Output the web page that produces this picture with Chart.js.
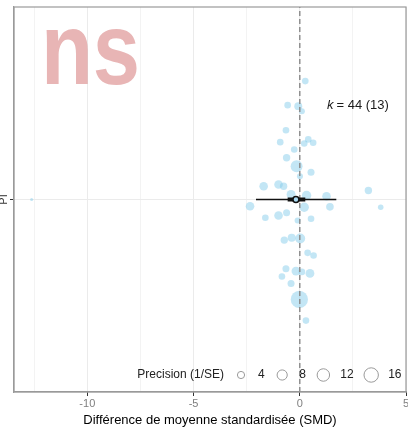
<!DOCTYPE html>
<html>
<head>
<meta charset="utf-8">
<script src="https://cdn.jsdelivr.net/npm/chart.js@4/dist/chart.umd.min.js"></script>
<style>
  html, body { margin: 0; padding: 0; background: #fff; }
  #wrap { width: 408px; height: 429px; }
</style>
</head>
<body>
<div id="wrap"><canvas id="chart" width="408" height="429"></canvas></div>
<script>
// Données (SMD par étude, décalage vertical du nuage, précision 1/SE)
const smd = [0.26, -0.57, -0.07, 0.10, -0.65, -0.92, 0.40, 0.21, 0.63, -0.26,
             -0.62, -0.15, 0.53, 0.01, -1.70, -1.00, -0.76, -0.41, 0.32, 1.26,
             3.23, -2.34, 0.21, 1.42, 3.81, -1.62, -1.00, -0.62, -0.10, 0.53,
             -0.73, -0.38, 0.02, 0.37, 0.65, -0.65, -0.18, 0.10, 0.48, -0.84,
             -0.41, -0.02, 0.29, -12.62];
const jitter = [0.615, 0.49, 0.485, 0.459, 0.36, 0.298, 0.312, 0.291, 0.295, 0.26,
                0.217, 0.173, 0.142, 0.121, 0.069, 0.078, 0.069, 0.026, 0.021, 0.017,
                0.047, -0.035, -0.04, -0.038, -0.04, -0.095, -0.083, -0.069, -0.109, -0.10,
                -0.211, -0.199, -0.203, -0.277, -0.291, -0.36, -0.372, -0.376, -0.384, -0.40,
                -0.436, -0.519, -0.629, 0];
const precision = [3.4, 3.4, 4.9, 2.8, 3.4, 3.4, 3.4, 3.4, 3.4, 3.4,
                   4.2, 11, 3.8, 2.8, 5.7, 5.7, 4.2, 6.2, 6.8, 5.7,
                   4.2, 5.7, 6.8, 4.5, 2.4, 3.4, 5.7, 3.8, 2.8, 3.4,
                   4.2, 4.9, 7.7, 3.4, 3.4, 3.8, 6, 3.4, 6, 3.4,
                   3.8, 23, 3.4, 0.7];

// Estimation poolée, IC et intervalle de prédiction
const pooled = -0.18;
const ciBounds = [-0.57, 0.26];
const piBounds = [-2.06, 1.72];

const xTicks = [-10, -5, 0, 5];
const xMinorTicks = [-12.5, -7.5, -2.5, 2.5];
const legendPrecision = [4, 8, 12, 16];
const categoryLabel = 'PI';
const kText = '44 (13)';

const FONT = '"Liberation Sans", Arial, sans-serif';

function radius(p) {
    return 1.8 * Math.sqrt(p);
}

const isMajor = c => c.tick && xTicks.includes(c.tick.value);

// Dessin des annotations : "ns", k, légende de précision, étiquettes, cadre
const annotations = {
    id: 'annotations',
    beforeDatasetsDraw(chart) {
        const ctx = chart.ctx;
        ctx.save();
        ctx.fillStyle = 'rgba(205, 92, 92, 0.45)';
        ctx.font = 'bold 100px ' + FONT;
        ctx.textBaseline = 'alphabetic';
        ctx.textAlign = 'left';
        // ajuster le texte à la boîte visible dans l'original
        const m = ctx.measureText('ns');
        const inkW = m.actualBoundingBoxRight + m.actualBoundingBoxLeft;
        const inkH = m.actualBoundingBoxAscent;
        const sx = 91 / inkW;
        const sy = 55.5 / inkH;
        ctx.translate(46 + m.actualBoundingBoxLeft * sx, 83.5);
        ctx.scale(sx, sy);
        ctx.fillText('ns', 0, 0);
        ctx.restore();
    },
    afterDraw(chart) {
        const ctx = chart.ctx;
        const area = chart.chartArea;
        const xScale = chart.scales.x;
        const yScale = chart.scales.y;

        // cadre du panneau
        ctx.save();
        ctx.strokeStyle = '#9a9a9a';
        ctx.lineWidth = 1.2;
        ctx.strokeRect(area.left, area.top, area.right - area.left, area.bottom - area.top);
        ctx.restore();

        // étiquettes de l'axe x
        ctx.save();
        ctx.fillStyle = '#7f7f7f';
        ctx.font = '11px ' + FONT;
        ctx.textAlign = 'center';
        ctx.textBaseline = 'top';
        xTicks.forEach(v => ctx.fillText(String(v), xScale.getPixelForValue(v), area.bottom + 6));
        ctx.restore();

        // étiquette PI (verticale)
        ctx.save();
        ctx.fillStyle = '#333';
        ctx.font = '11px ' + FONT;
        ctx.textAlign = 'center';
        ctx.textBaseline = 'middle';
        ctx.translate(4, yScale.getPixelForValue(0));
        ctx.rotate(-Math.PI / 2);
        ctx.fillText(categoryLabel, 0, 0);
        ctx.restore();

        // k = 44 (13)
        ctx.save();
        ctx.fillStyle = '#1a1a1a';
        ctx.textBaseline = 'middle';
        ctx.font = 'italic 13px ' + FONT;
        let x = 327;
        const ky = 105;
        ctx.fillText('k', x, ky);
        x += ctx.measureText('k').width + 3;
        ctx.font = '13px ' + FONT;
        ctx.fillText('= ' + kText, x, ky);
        ctx.restore();

        // légende de précision
        ctx.save();
        const ly = 375;
        ctx.font = '12px ' + FONT;
        ctx.fillStyle = '#222';
        ctx.textBaseline = 'middle';
        ctx.textAlign = 'right';
        ctx.fillText('Precision (1/SE)', 224, ly);
        ctx.textAlign = 'left';
        let cursor = 224;
        legendPrecision.forEach(p => {
            const cx = cursor + 17;
            ctx.beginPath();
            ctx.arc(cx, ly, radius(p), 0, Math.PI * 2);
            ctx.strokeStyle = '#9a9a9a';
            ctx.lineWidth = 1;
            ctx.stroke();
            ctx.fillStyle = '#222';
            const label = String(p);
            ctx.fillText(label, cx + 17, ly);
            cursor = cx + 17 + ctx.measureText(label).width + 0.5;
        });
        ctx.restore();
    }
};

const ctx = document.getElementById('chart').getContext('2d');
const chart = new Chart(ctx, {
    type: 'scatter',
    data: {
        datasets: [
            {
                // estimation poolée
                data: [{ x: pooled, y: 0 }],
                pointRadius: 3,
                pointBackgroundColor: '#a9d9f2',
                pointBorderColor: '#111',
                pointBorderWidth: 1.6,
                order: 0
            },
            {
                // intervalle de confiance
                data: [{ x: ciBounds[0], y: 0 }, { x: ciBounds[1], y: 0 }],
                showLine: true,
                borderColor: '#111',
                borderWidth: 4,
                pointRadius: 0,
                order: 1
            },
            {
                // intervalle de prédiction
                data: [{ x: piBounds[0], y: 0 }, { x: piBounds[1], y: 0 }],
                showLine: true,
                borderColor: '#111',
                borderWidth: 1.5,
                pointRadius: 0,
                order: 2
            },
            {
                // ligne de référence à 0
                data: [{ x: 0, y: -1 }, { x: 0, y: 1 }],
                showLine: true,
                borderColor: '#8f8f8f',
                borderWidth: 1.5,
                borderDash: [5, 3],
                pointRadius: 0,
                order: 3
            },
            {
                // études
                data: smd.map((v, i) => ({ x: v, y: jitter[i] })),
                pointRadius: c => radius(precision[c.dataIndex]),
                pointBackgroundColor: 'rgba(135, 206, 235, 0.5)',
                pointBorderWidth: 0,
                order: 4
            }
        ]
    },
    options: {
        responsive: false,
        animation: false,
        devicePixelRatio: 1,
        layout: { padding: { top: 7, right: 2, left: 0, bottom: 0 }, autoPadding: false },
        plugins: {
            legend: { display: false },
            tooltip: { enabled: false }
        },
        scales: {
            x: {
                type: 'linear',
                min: -13.45,
                max: 5,
                afterBuildTicks: scale => {
                    scale.ticks = xTicks.concat(xMinorTicks).sort((a, b) => a - b).map(v => ({ value: v }));
                },
                afterFit: scale => { scale.height = 37; },
                ticks: { display: false },
                grid: {
                    color: c => isMajor(c) ? '#ebebeb' : '#f3f3f3',
                    tickColor: c => isMajor(c) ? '#333' : 'rgba(0,0,0,0)',
                    tickLength: 4,
                    lineWidth: 1
                },
                border: { color: '#9a9a9a', width: 1.2 },
                title: {
                    display: true,
                    text: 'Différence de moyenne standardisée (SMD)',
                    color: '#000',
                    font: { family: FONT, size: 13 },
                    padding: { top: 0, bottom: 1 }
                }
            },
            y: {
                type: 'linear',
                min: -1,
                max: 1,
                afterBuildTicks: scale => { scale.ticks = [{ value: 0 }]; },
                afterFit: scale => { scale.width = 14; },
                ticks: { display: false },
                grid: {
                    color: '#ebebeb',
                    tickColor: '#333',
                    tickLength: 4
                },
                border: { color: '#9a9a9a', width: 1.2 }
            }
        }
    },
    plugins: [annotations]
});
</script>
</body>
</html>
